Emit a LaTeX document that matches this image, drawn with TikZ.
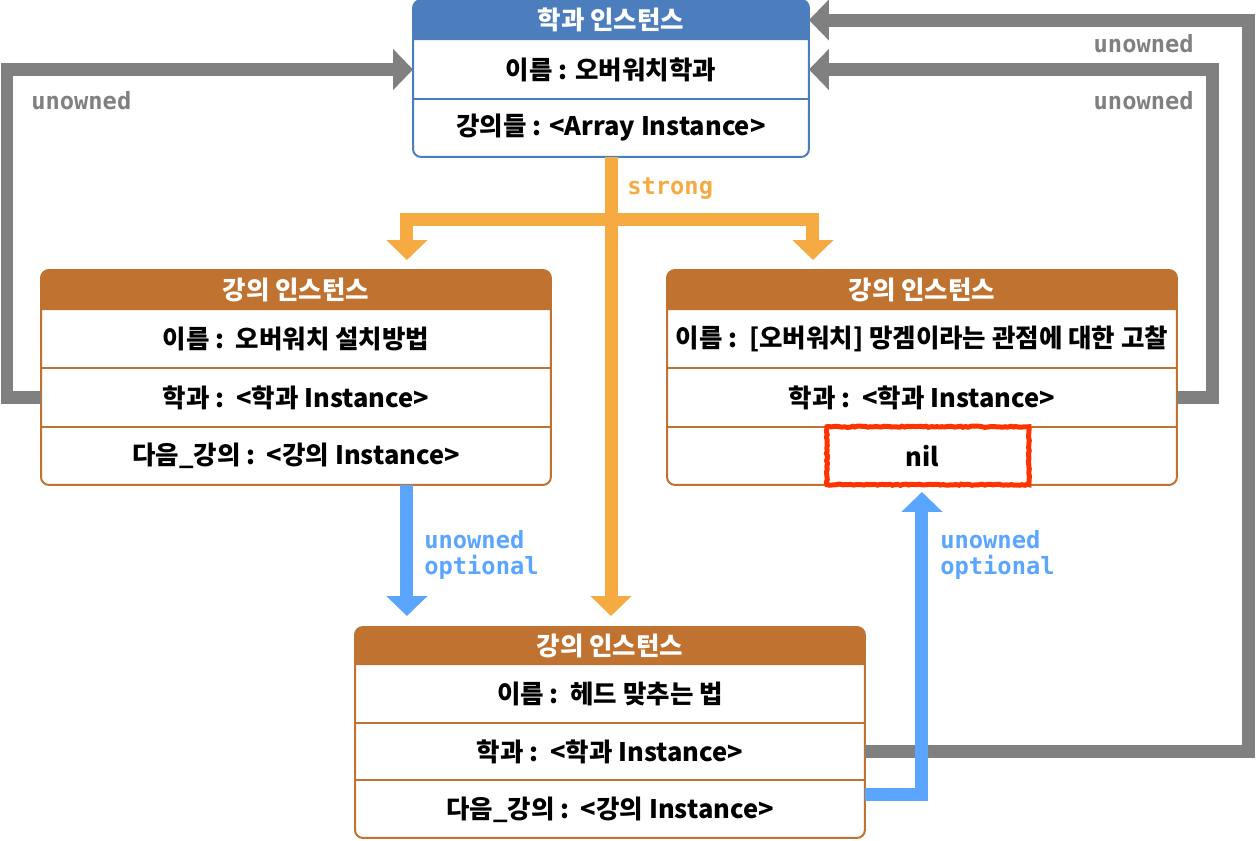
\documentclass[tikz,border=0pt]{standalone}
\usepackage{fontspec}
\setmainfont{Noto Sans CJK KR}
\newfontfamily\codefont{DejaVu Sans Mono}
\usepackage{tikz}
\usetikzlibrary{positioning,arrows.meta,decorations.pathmorphing}
\definecolor{deptblue}{RGB}{76,126,189}
\definecolor{lecbrown}{RGB}{192,114,48}
\definecolor{strongc}{RGB}{245,170,66}
\definecolor{weakc}{RGB}{90,166,255}
\definecolor{ownc}{RGB}{128,128,128}
\definecolor{nilred}{RGB}{255,51,0}

\begin{document}
\begin{tikzpicture}[
x=0.02cm, y=-0.02cm,
frame/.style={draw, rounded corners=0.16cm, line width=0.04cm, fill=white, inner sep=0, outer sep=0},
hdr/.style={text=white, font=\fontsize{14.5}{16}\selectfont\bfseries, inner sep=0, outer sep=0, minimum height=0.8cm},
field/.style={font=\fontsize{14.5}{16}\selectfont\bfseries, inner sep=0, outer sep=0, minimum height=1.166cm},
tag/.style={font=\fontsize{13.5}{14.8}\selectfont\codefont\bfseries, inner sep=0, align=left},
ownline/.style={draw=ownc, line width=0.26cm, -{Triangle[width=0.8cm,length=0.4cm]}},
strongline/.style={draw=strongc, line width=0.26cm, -{Triangle[width=0.8cm,length=0.4cm]}},
weakline/.style={draw=weakc, line width=0.26cm, -{Triangle[width=0.8cm,length=0.4cm]}},
nilmark/.style={draw=nilred, line width=0.1cm, inner sep=0, decorate, decoration={random steps, segment length=1.5pt, amplitude=0.35pt}}
]
\useasboundingbox (0,0) rectangle (1256,840);

% department instance
\node[frame, draw=deptblue, minimum width=7.92cm, minimum height=3.14cm, anchor=north] (d) at (611,0) {};
\fill[deptblue] ([yshift=-0.8cm]d.north west) [rounded corners=0.16cm] -- (d.north west) -- (d.north east) [sharp corners] -- ([yshift=-0.8cm]d.north east) -- cycle;
\node[hdr, minimum width=7.92cm, anchor=north] (dh) at (d.north) {학과 인스턴스};
\node[field, minimum width=7.92cm, minimum height=1.18cm, below=0cm of dh] (d1) {이름 : 오버워치학과};
\node[field, minimum width=7.92cm, minimum height=1.16cm, below=0cm of d1] (d2) {강의들 : <Array Instance>};
\draw[deptblue, line width=0.04cm] (d1.south west) -- (d1.south east);

% lecture instance (left)
\node[frame, draw=lecbrown, minimum width=10.2cm, minimum height=4.3cm, anchor=north west] (l) at (41,270) {};
\fill[lecbrown] ([yshift=-0.8cm]l.north west) [rounded corners=0.16cm] -- (l.north west) -- (l.north east) [sharp corners] -- ([yshift=-0.8cm]l.north east) -- cycle;
\node[hdr, minimum width=10.2cm, anchor=north] (lh) at (l.north) {강의 인스턴스};
\node[field, minimum width=10.2cm, below=0cm of lh] (l1) {이름 :~~오버워치 설치방법};
\node[field, minimum width=10.2cm, below=0cm of l1] (l2) {학과 :~~<학과 Instance>};
\node[field, minimum width=10.2cm, below=0cm of l2] (l3) {다음\_강의 :~~<강의 Instance>};
\draw[lecbrown, line width=0.04cm] (l1.south west) -- (l1.south east);
\draw[lecbrown, line width=0.04cm] (l2.south west) -- (l2.south east);

% lecture instance (right)
\node[frame, draw=lecbrown, minimum width=10.2cm, minimum height=4.3cm, anchor=north west] (r) at (667,270) {};
\fill[lecbrown] ([yshift=-0.8cm]r.north west) [rounded corners=0.16cm] -- (r.north west) -- (r.north east) [sharp corners] -- ([yshift=-0.8cm]r.north east) -- cycle;
\node[hdr, minimum width=10.2cm, anchor=north] (rh) at (r.north) {강의 인스턴스};
\node[field, minimum width=10.2cm, below=0cm of rh] (r1) {이름 :~~[오버워치] 망겜이라는 관점에 대한 고찰};
\node[field, minimum width=10.2cm, below=0cm of r1] (r2) {학과 :~~<학과 Instance>};
\node[field, minimum width=10.2cm, below=0cm of r2] (r3) {nil};
\draw[lecbrown, line width=0.04cm] (r1.south west) -- (r1.south east);
\draw[lecbrown, line width=0.04cm] (r2.south west) -- (r2.south east);
\node[nilmark, minimum width=4.04cm, minimum height=1.16cm] (nilbox) at ([xshift=0.12cm]r3.center) {};

% lecture instance (bottom)
\node[frame, draw=lecbrown, minimum width=10.2cm, minimum height=4.22cm, anchor=north west] (b) at (355,627) {};
\fill[lecbrown] ([yshift=-0.76cm]b.north west) [rounded corners=0.16cm] -- (b.north west) -- (b.north east) [sharp corners] -- ([yshift=-0.76cm]b.north east) -- cycle;
\node[hdr, minimum width=10.2cm, minimum height=0.76cm, anchor=north] (bh) at (b.north) {강의 인스턴스};
\node[field, minimum width=10.2cm, minimum height=1.155cm, below=0cm of bh] (b1) {이름 :~~헤드 맞추는 법};
\node[field, minimum width=10.2cm, minimum height=1.155cm, below=0cm of b1] (b2) {학과 :~~<학과 Instance>};
\node[field, minimum width=10.2cm, minimum height=1.155cm, below=0cm of b2] (b3) {다음\_강의 :~~<강의 Instance>};
\draw[lecbrown, line width=0.04cm] (b1.south west) -- (b1.south east);
\draw[lecbrown, line width=0.04cm] (b2.south west) -- (b2.south east);

% strong references
\coordinate (split) at (611,219);
\draw[strongline, shorten >=0.22cm] (d.south) -- (d.south |- b.north);
\draw[strongline, shorten >=0.2cm] (split) -| ([xshift=7.32cm]l.north west);
\draw[strongline, shorten >=0.2cm] (split) -| ([xshift=2.92cm]r.north west);
\node[tag, text=strongc, anchor=west] (strongtag) at (627,189) {strong};

% unowned references
\draw[ownline] (l2.west) -- ++(-34,0) |- (d1.west);
\draw[ownline] (r2.east) -- ++(36,0) |- (d1.east);
\draw[ownline] (b2.east) -- ++(384,0) |- (dh.east);
\node[tag, text=ownc, anchor=west] (owntagl) at (31,101) {unowned};
\node[tag, text=ownc, anchor=east] (owntagr) at (1194,101) {unowned};
\node[tag, text=ownc, anchor=east] (owntagt) at (1194,44) {unowned};

% unowned optional references
\draw[weakline, shorten >=0.22cm] ([xshift=7.32cm]l.south west) -- ([xshift=7.32cm]l.south west |- b.north);
\draw[weakline, shorten >=0.14cm] ([yshift=0.3cm]b3.east) -| (r.south);
\node[tag, text=weakc, anchor=north west] (weaktagl) at (424,530) {unowned\\optional};
\node[tag, text=weakc, anchor=north west] (weaktagr) at (940,530) {unowned\\optional};
\end{tikzpicture}
\end{document}
